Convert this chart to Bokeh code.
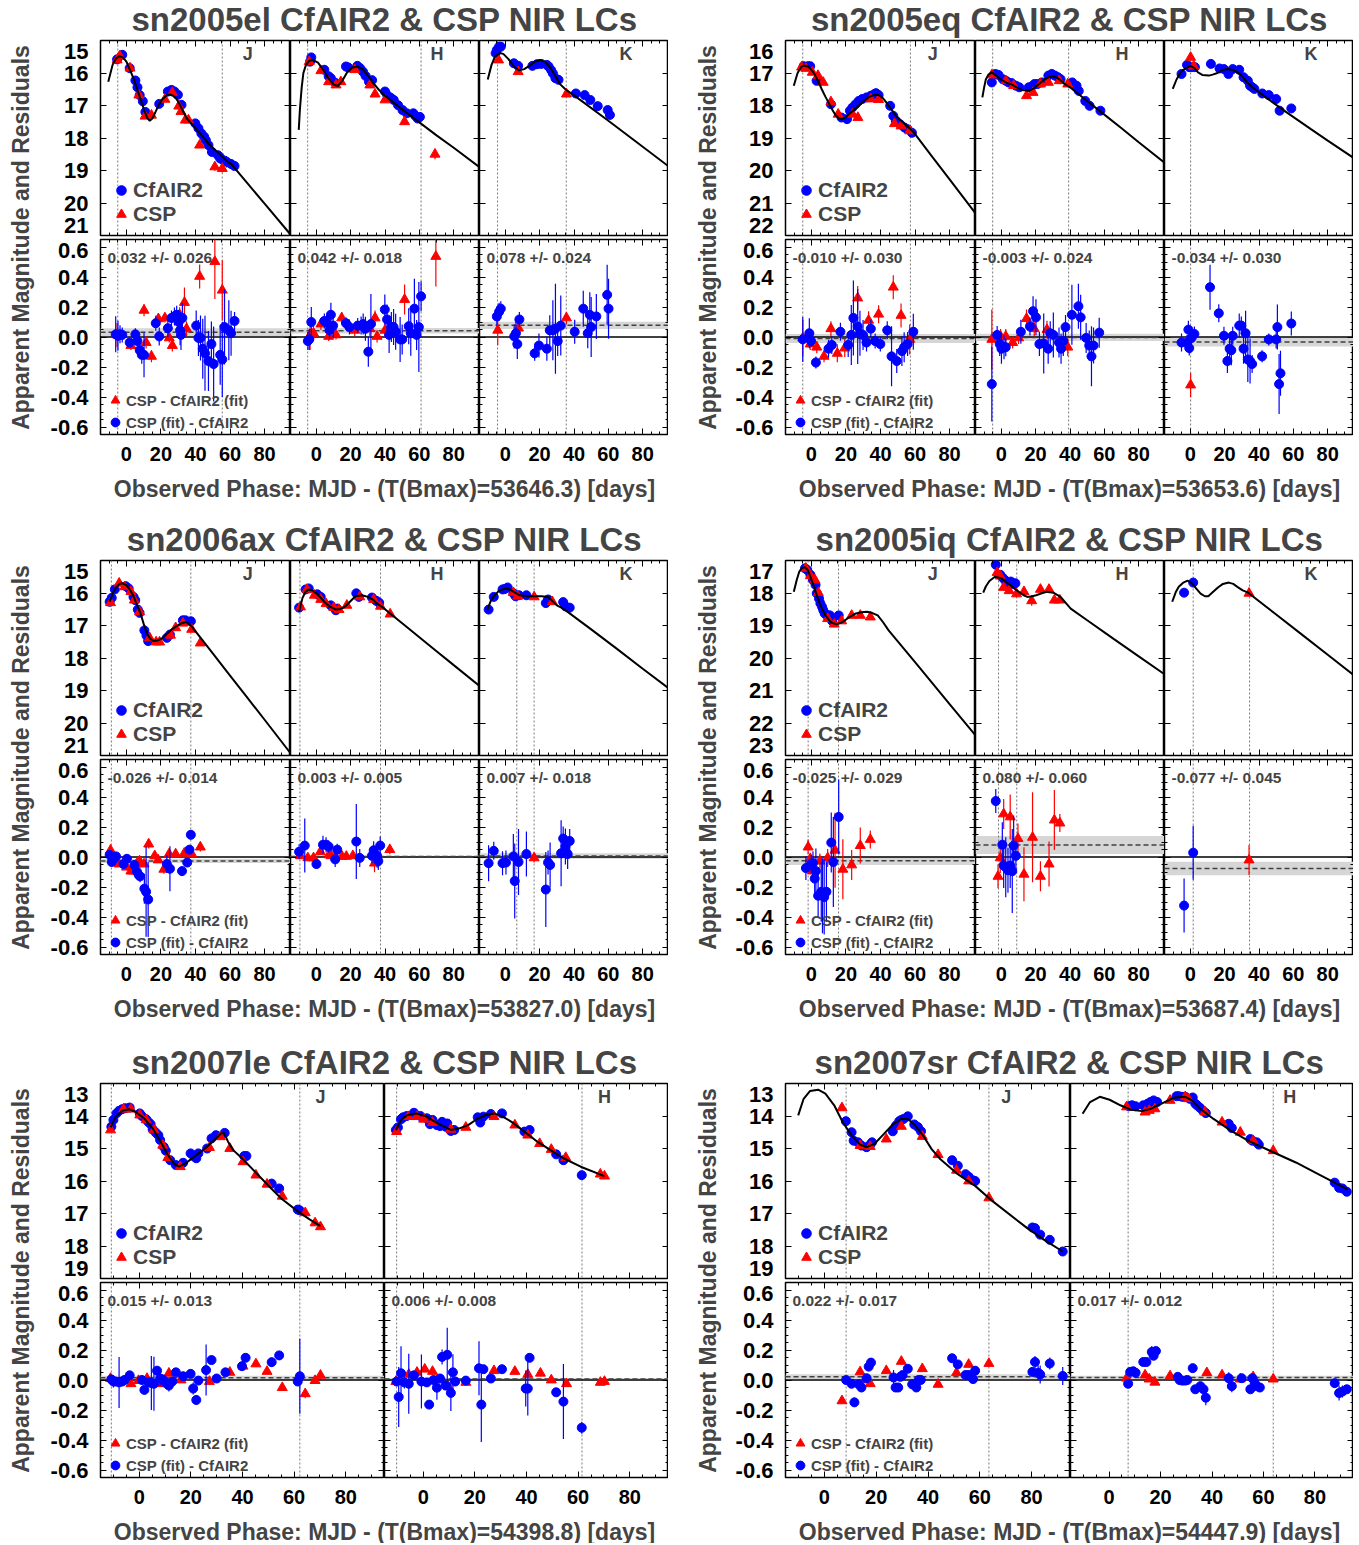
import numpy as np
from bokeh.plotting import figure
from bokeh.layouts import row, column
from bokeh.models import (Range1d, LinearAxis, FixedTicker, Label, Span, BoxAnnotation,
                          ColumnDataSource, Legend, LegendItem, CustomJSTickFormatter,
                          NumeralTickFormatter, Spacer)
from bokeh.embed import file_html
from bokeh.resources import INLINE

# ============================ DATA ============================
# ---- sn2005el ----
el_mag = (15, 21)
el_vlines = [[-5, 55.5], [-5, 61], [-4.5, 35.5]]
el_offsets = [(0.032, 0.026), (0.042, 0.018), (0.078, 0.024)]
el_J_curve = [(-10.5,16.27),(-8,15.75),(-6,15.55),(-4,15.48),(-2,15.52),(0,15.65),(2,15.9),(4,16.15),(6,16.45),(8,16.78),(10,17.1),(12,17.38),(13.5,17.47),(15,17.4),(17,17.18),(19,16.95),(21,16.8),(23,16.7),(25,16.66),(27,16.7),(29,16.8),(31,16.98),(33,17.2),(35,17.4),(38,17.58),(43,17.88),(48,18.2),(53,18.45),(58,18.7),(61,18.82),(70,19.39),(80,20.02),(95,20.97)]
el_J_cfa = [(-5.4,15.58,.03),(-2.4,15.44,.03),(1.9,15.85,.03),(5.2,16.23,.03),(6.4,16.44,.03),(7.7,16.68,.04),(9.5,16.87,.04),(11.0,17.2,.04),(19.0,16.95,.04),(24.0,16.57,.03),(26.1,16.52,.03),(27.8,16.57,.03),(29.8,16.67,.04),(31.9,16.98,.04),(39.9,17.55,.05),(41.7,17.7,.06),(43.4,17.86,.06),(45.0,17.96,.08),(46.0,18.07,.08),(47.5,18.22,.06),(49.5,18.43,.08),(53.0,18.53,.12),(54.3,18.63,.15),(56.0,18.68,.2),(58.0,18.73,.18),(60.6,18.8,.15),(62.6,18.86,.06)]
el_J_csp = [(-5.4,15.6,.03),(-3.8,15.48,.03),(2.1,15.85,.03),(7.2,16.68,.03),(10.8,17.33,.04),(14.5,17.3,.04),(22.3,16.81,.03),(26.6,16.6,.03),(30.3,17.02,.04),(31.6,17.19,.04),(34.1,17.45,.04),(35.9,17.45,.04),(42.4,18.22,.06),(51.2,18.89,.12),(55.5,18.94,.12)]
el_H_curve = [(-10.2,17.75),(-9.5,17.1),(-8.5,16.45),(-7.5,16.0),(-6,15.75),(-4,15.62),(-2,15.6),(1,15.68),(4,15.9),(7,16.15),(10,16.35),(12.5,16.4),(15,16.25),(18,15.98),(21,15.83),(24,15.8),(27,15.88),(30,16.07),(33,16.3),(37,16.55),(40,16.7),(50,17.12),(60,17.52),(70,17.92),(80,18.3),(95,18.9)]
el_H_cfa = [(-3.6,15.65,.03),(-2.9,15.52,.03),(4.7,15.9,.03),(7.2,16.1,.04),(8.5,16.16,.04),(11.0,16.3,.04),(17.3,15.8,.03),(18.6,15.83,.03),(23.9,15.78,.03),(25.5,15.85,.04),(27.2,15.96,.04),(28.7,16.09,.04),(30.7,16.27,.05),(32.5,16.22,.05),(40.0,16.57,.05),(41.3,16.68,.06),(43.3,16.76,.08),(45.1,16.83,.08),(47.6,16.99,.08),(50.2,17.14,.1),(52.7,17.24,.1),(56.5,17.24,.08),(57.7,17.32,.1),(59.0,17.4,.12),(60.3,17.35,.12)]
el_H_csp = [(-4.1,15.65,.03),(2.7,15.93,.03),(7.2,16.27,.03),(11.5,16.37,.04),(14.3,16.27,.04),(22.4,15.9,.03),(31.2,16.37,.04),(34.2,16.65,.05),(40.0,16.83,.05),(51.4,17.5,.1),(69.1,18.5,.15)]
el_K_curve = [(-10.2,16.2),(-8,15.75),(-6,15.5),(-3,15.38),(-1,15.42),(2,15.58),(5,15.8),(8,15.92),(11,15.88),(14,15.78),(17,15.66),(20,15.6),(23,15.65),(26,15.82),(29,16.08),(32,16.35),(35,16.5),(45,16.88),(60,17.47),(75,18.07),(95,18.87)]
el_K_cfa = [(-5.6,15.39,.03),(-4.9,15.29,.03),(-3.6,15.19,.03),(-2.6,15.19,.03),(5.0,15.7,.05),(7.5,15.78,.05),(15.8,15.78,.04),(18.4,15.73,.04),(20.9,15.72,.05),(24.2,15.75,.06),(25.2,15.8,.08),(26.7,15.91,.08),(27.7,16.01,.1),(29.2,16.16,.12),(31.0,16.21,.1),(41.1,16.63,.05),(46.2,16.68,.05),(49.5,16.83,.08),(53.8,17.02,.08),(59.6,17.14,.1),(60.9,17.29,.1)]
el_K_csp = [(-3.9,15.6,.03),(7.5,15.96,.04),(35.6,16.65,.04)]
el_J_rcfa = [(-6.2,0.018,.12),(-4.9,0.008,.1),(-3.7,0.018,.06),(-2.4,0.014,.05),(1.9,-0.037,.03),(5.2,0.018,.04),(6.4,-0.027,.05),(7.7,-0.088,.05),(8.9,-0.119,.06),(10.2,-0.119,.15),(17.0,0.092,.05),(19.0,0.004,.06),(24.0,0.059,.06),(26.1,0.127,.05),(27.8,0.137,.06),(29.1,0.148,.06),(30.3,0.1,.08),(31.1,0.045,.1),(31.6,0.014,.1),(32.4,0.127,.1),(40.4,0.076,.1),(41.7,-0.006,.12),(42.9,-0.006,.15),(44.2,-0.078,.2),(45.5,-0.109,.25),(47.5,-0.16,.2),(49.2,-0.047,.15),(50.5,-0.18,.25),(54.3,-0.119,.2),(55.5,-0.15,.25),(56.8,0.066,.25),(59.3,0.045,.2),(60.6,0.025,.15),(62.6,0.107,.06)]
el_J_rcsp = [(-5.4,0.014,.08),(2.6,-0.057,.03),(10.2,0.178,.04),(11.4,-0.037,.04),(14.5,-0.129,.04),(18.5,0.121,.03),(22.3,0.127,.03),(24.8,-0.006,.03),(26.6,-0.057,.04),(30.8,0.148,.05),(33.6,0.23,.1),(34.8,0.055,.05),(42.4,0.404,.08),(51.2,0.503,.25),(55.5,0.312,.2)]
el_H_rcfa = [(-4.9,-0.027,.06),(-4.1,-0.016,.07),(-2.9,0.1,.1),(4.7,0.107,.05),(6.0,0.096,.05),(7.7,0.045,.06),(8.5,0.148,.08),(9.8,0.076,.08),(17.3,0.092,.04),(19.3,0.066,.05),(24.1,0.076,.05),(26.1,0.076,.06),(27.3,0.086,.07),(28.6,0.055,.08),(30.3,-0.098,.1),(31.8,0.086,.2),(39.9,0.183,.1),(41.2,0.117,.1),(42.4,0.014,.12),(43.7,0.066,.1),(45.0,0.066,.12),(46.2,0.035,.12),(48.8,-0.016,.15),(50.0,-0.016,.1),(53.8,0.072,.12),(55.0,0.025,.15),(57.1,0.189,.2),(58.4,0.014,.1),(59.7,0.066,.3),(61.0,0.271,.1)]
el_H_rcsp = [(-3.6,0.014,.1),(-1.6,0.025,.05),(2.7,0.086,.04),(7.2,0.004,.03),(11.5,0.014,.03),(14.8,0.127,.04),(22.4,0.045,.04),(31.2,0.055,.06),(34.2,0.127,.05),(35.4,0.004,.04),(40.0,0.045,.05),(51.4,0.25,.1),(69.6,0.537,.2)]
el_K_rcfa = [(-4.9,0.137,.06),(-3.6,0.168,.06),(-2.6,0.189,.05),(5.2,0.004,.08),(6.2,0.025,.08),(7.0,-0.047,.1),(8.2,0.117,.05),(17.1,-0.109,.05),(19.6,-0.057,.08),(24.2,-0.078,.08),(25.9,0.045,.1),(27.7,0.045,.2),(29.2,0.055,.3),(30.5,-0.027,.1),(32.3,0.076,.2),(40.4,0.035,.08),(45.4,0.189,.12),(48.0,0.025,.1),(49.2,0.148,.15),(50.0,0.066,.2),(53.0,0.137,.15),(59.3,0.281,.2),(60.1,0.189,.2)]
el_K_rcsp = [(-4.4,0.045,.1),(7.7,0.059,.05),(35.6,0.127,.04)]

# ---- sn2005eq ----
eq_mag = (16, 22)
eq_vlines = [[-5, 57.3], [-5, 39.2], [0.2]]
eq_offsets = [(-0.010, 0.030), (-0.003, 0.024), (-0.034, 0.030)]
eq_J_curve = [(-10.2,17.39),(-8,17.0),(-6,16.82),(-4.5,16.77),(-2,16.8),(0,16.9),(2,17.05),(4,17.27),(6,17.5),(8,17.72),(10,17.92),(12,18.12),(14,18.3),(16,18.4),(18,18.42),(20,18.36),(22,18.25),(24,18.17),(27,18.02),(30,17.88),(33,17.75),(36,17.68),(39,17.68),(41,17.75),(43,17.88),(46,18.1),(50,18.38),(54,18.56),(58,18.76),(60,18.88),(70,19.58),(80,20.27),(95,21.32)]
eq_J_cfa = [(-4.5,16.79,.03),(-2,16.79,.03),(-0.7,16.79,.03),(3,17.24,.04),(11.3,17.96,.04),(17.4,18.37,.05),(20.6,18.42,.06),(22.3,18.16,.1),(23.8,18.06,.12),(25.6,17.96,.1),(27.4,17.86,.1),(29.4,17.8,.08),(31.9,17.75,.06),(34.4,17.7,.05),(36.4,17.65,.04),(37.4,17.62,.04),(38.9,17.68,.04),(45.6,18.01,.04),(47.4,18.32,.05),(48.9,18.47,.05),(51.4,18.58,.06),(53.9,18.68,.06),(55.7,18.73,.08),(58.2,18.84,.08)]
eq_J_csp = [(-5.7,16.82,.03),(-3.2,16.86,.03),(0.5,16.98,.03),(3.8,17.08,.03),(6.8,17.29,.03),(11.3,17.89,.04),(15.5,18.27,.04),(23.8,18.27,.05),(26.9,18.37,.05),(34.4,17.8,.05),(38.9,17.82,.05),(48.1,18.56,.06),(51.9,18.63,.06),(56.9,18.78,.07)]
eq_H_curve = [(-11,17.75),(-10,17.45),(-9,17.2),(-7.5,17.05),(-5.5,16.98),(-3,17.08),(-0.5,17.19),(3,17.3),(6,17.35),(9,17.44),(12,17.52),(16,17.55),(19,17.47),(22,17.34),(25,17.2),(28,17.12),(31,17.11),(34,17.2),(37,17.34),(40,17.44),(50,17.86),(60,18.28),(70,18.7),(80,19.13),(95,19.76)]
eq_H_cfa = [(-5.5,17.29,.06),(-3.4,17.03,.04),(-1.6,17.06,.04),(0.9,17.19,.05),(2.7,17.24,.05),(4.2,17.29,.05),(6.0,17.31,.05),(8.5,17.39,.05),(10.5,17.44,.06),(16.0,17.44,.06),(17.8,17.41,.06),(19.3,17.34,.06),(21.0,17.34,.06),(23.6,17.29,.06),(27.4,17.08,.08),(29.4,17.03,.08),(31.2,17.08,.06),(33.0,17.13,.06),(34.5,17.19,.06),(41.3,17.29,.06),(43.8,17.39,.08),(45.1,17.55,.08),(48.9,17.86,.1),(51.4,18.01,.1),(57.7,18.16,.1)]
eq_H_csp = [(-5.5,17.06,.03),(2.7,17.24,.03),(7.2,17.39,.03),(14.7,17.7,.04),(18.5,17.6,.04),(22.8,17.34,.04),(27.4,17.29,.04),(33.7,17.24,.04),(38.7,17.34,.05)]
eq_K_curve = [(-10.2,17.49),(-8,17.2),(-5.6,16.98),(-3,16.86),(0.2,16.79),(2.5,16.85),(4.5,16.98),(7,17.06),(10.8,17.08),(13,17.05),(15.8,17.0),(18.5,16.92),(20.9,16.88),(24.7,16.9),(27,16.96),(29.8,17.08),(33,17.28),(36.1,17.44),(45,17.79),(56.3,18.22),(70,18.72),(80,19.08),(95,19.61)]
eq_K_cfa = [(-5.1,17.03,.05),(-1.9,16.75,.05),(-0.6,16.82,.05),(0.7,16.82,.05),(2.7,16.82,.05),(12,16.72,.06),(17,16.86,.06),(19.6,16.88,.06),(22.2,17.03,.08),(24.7,16.88,.06),(28.5,16.9,.06),(31,17.13,.08),(33.5,17.24,.1),(34.8,17.39,.1),(36.1,17.44,.1),(37.3,17.49,.1),(41.9,17.63,.06),(45.7,17.68,.06),(50,17.8,.08),(52,18.16,.12),(58.8,18.09,.08)]
eq_K_csp = [(0.2,16.52,.05),(2.0,16.79,.04)]
eq_J_rcfa = [(-5,-0.016,.15),(-1.2,0.025,.1),(-0.2,-0.027,.04),(2.6,-0.17,.04),(9.9,-0.078,.06),(11.8,-0.053,.06),(16.8,0.035,.06),(21.3,-0.053,.08),(23.1,0.014,.2),(24.3,0.127,.25),(26.8,0.07,.25),(28.1,0.025,.15),(29.9,0.014,.1),(31.9,-0.037,.06),(34.4,0.055,.06),(36.9,-0.027,.05),(39.9,-0.047,.05),(43.9,0.045,.06),(46.4,-0.129,.2),(49.4,-0.16,.08),(52.4,-0.094,.1),(53.7,-0.068,.1),(55.7,-0.047,.08),(59.0,0.035,.12)]
eq_J_rcsp = [(-5,-0.006,.12),(-0.7,-0.047,.04),(3.1,-0.068,.04),(7.3,-0.129,.04),(11.3,0.055,.05),(15,-0.109,.06),(19.3,-0.074,.06),(26.8,0.26,.08),(33.1,0.111,.06),(38.9,0.152,.06),(47.4,0.332,.08),(51.9,0.144,.08),(56.9,-0.016,.1)]
eq_H_rcfa = [(-5.5,-0.314,.25),(-2.4,0.014,.06),(-0.9,-0.047,.08),(0.1,-0.078,.1),(1.6,-0.068,.08),(2.6,-0.068,.06),(11.4,0.035,.08),(16.7,0.07,.06),(18.5,0.172,.1),(20.2,0.131,.12),(22.2,-0.047,.08),(24.7,-0.043,.2),(27.3,-0.078,.1),(28.5,0.025,.08),(30.3,0.014,.15),(33.6,-0.037,.1),(34.8,-0.078,.1),(36.1,-0.027,.1),(37.4,0.066,.08),(41.1,0.148,.2),(44.9,0.205,.15),(46.2,0.131,.15),(49.4,-0.006,.1),(51.2,-0.057,.1),(52.5,-0.129,.2),(53.7,-0.057,.12),(57,0.029,.1)]
eq_H_rcsp = [(-5.5,-0.016,.2),(-0.4,0.004,.05),(2.6,0.004,.05),(6.6,-0.037,.04),(10.1,-0.006,.04),(14.7,0.123,.06),(19.2,0.055,.05),(26.6,0.049,.06),(38.7,-0.068,.06)]
eq_K_rcfa = [(-5.1,-0.037,.06),(-1.9,-0.037,.05),(-1.1,0.049,.06),(-0.6,-0.074,.05),(0.7,-0.006,.05),(2.4,0.02,.05),(11.5,0.332,.15),(16.6,0.158,.06),(19.6,0.008,.06),(21.6,-0.16,.08),(22.9,-0.078,.08),(23.9,-0.088,.1),(24.7,0.008,.06),(28.5,0.076,.08),(29.7,0.076,.06),(31,-0.078,.1),(32.2,0.025,.15),(33.5,-0.15,.15),(34.8,-0.16,.15),(36,-0.18,.06),(41.8,-0.129,.04),(45.7,-0.016,.04),(50,-0.016,.06),(50.7,0.066,.15),(51.7,-0.314,.2),(52.5,-0.242,.15),(58.8,0.09,.08)]
eq_K_rcsp = [(0.2,-0.32,.08)]

# ---- sn2006ax ----
ax_mag = (15, 21)
ax_vlines = [[-8.7, 37.3], [-9.5, 37.4], [6.7, 16.8]]
ax_offsets = [(-0.026, 0.014), (0.003, 0.005), (0.007, 0.018)]
ax_J_curve = [(-9.7,16.27),(-8,16.02),(-6,15.83),(-4,15.72),(-2.4,15.7),(0,15.76),(2,15.9),(4,16.08),(6,16.35),(8,16.6),(10,16.95),(12,17.25),(14,17.42),(16,17.48),(18,17.46),(20,17.42),(23,17.28),(26,17.13),(29,17.02),(32,16.93),(34.5,16.89),(37.3,17.0),(40,17.18),(43,17.38),(50,17.86),(60,18.54),(70,19.22),(80,19.9),(95,20.93)]
ax_J_cfa = [(-9.7,16.27,.04),(-8.5,16.15,.04),(-6.7,15.89,.03),(-0.4,15.79,.03),(1.3,15.86,.03),(4.1,16.12,.03),(5.1,16.22,.03),(6.6,16.51,.04),(7.6,16.61,.04),(10.4,17.15,.05),(11.6,17.31,.06),(12.6,17.48,.15),(23.4,17.38,.04),(25.2,17.28,.04),(32.7,16.84,.04),(34.2,16.84,.04),(37.3,16.87,.03)]
ax_J_csp = [(-9.2,16.3,.03),(-4.2,15.7,.02),(-0.9,15.81,.02),(2.6,15.96,.02),(4.6,16.22,.02),(7.6,16.58,.03),(13.4,17.38,.03),(17.2,17.51,.03),(19.2,17.51,.03),(25.5,17.3,.03),(28.5,17.07,.03),(32.7,16.93,.03),(37.8,17.12,.03),(42.8,17.54,.03)]
ax_H_curve = [(-10,16.58),(-8,16.15),(-6.2,15.96),(-4.4,15.89),(-2,15.93),(0.1,16.01),(3,16.17),(5.2,16.3),(8,16.42),(11.4,16.51),(14,16.49),(16.5,16.43),(19,16.3),(22.8,16.1),(26.6,16.07),(30,16.12),(32.9,16.2),(35.5,16.33),(37.9,16.41),(43,16.63),(50,16.93),(60,17.36),(70,17.79),(80,18.22),(95,18.86)]
ax_H_cfa = [(-10,16.45,.05),(-6.2,15.89,.1),(-4.4,15.86,.04),(0.6,16.04,.03),(2.6,16.12,.03),(8.4,16.38,.03),(11.4,16.53,.04),(12.2,16.48,.04),(23.3,16.01,.08),(24.8,16.12,.04),(32.4,16.14,.04),(34.9,16.24,.05),(36.6,16.3,.05)]
ax_H_csp = [(-9.2,16.43,.03),(-5.4,15.89,.02),(-1.1,16.07,.02),(2.6,16.2,.02),(5.7,16.33,.02),(10.2,16.45,.02),(13.2,16.51,.02),(17.8,16.38,.02),(25.3,16.12,.02),(33.4,16.2,.02),(37.4,16.41,.02),(43,16.65,.03)]
ax_K_curve = [(-10.5,16.53),(-8.5,16.25),(-6.7,16.1),(-4,15.95),(-1.6,15.89),(0.9,15.86),(3,15.9),(4.7,15.96),(8.5,16.07),(13.5,16.1),(21.1,16.1),(24.9,16.12),(27.5,16.25),(30,16.38),(33,16.46),(36.3,16.58),(50,17.12),(65,17.72),(80,18.33),(95,18.93)]
ax_K_cfa = [(-9.7,16.51,.08),(-6.7,16.12,.05),(-1.6,15.89,.05),(-0.4,15.88,.05),(1.4,15.83,.05),(4.7,16.01,.1),(6,16.1,.1),(8,16.07,.08),(12.3,16.07,.05),(23.6,16.31,.08),(24.9,16.2,.12),(33.7,16.28,.1),(35,16.41,.1),(37.5,16.45,.08)]
ax_K_csp = [(4.7,15.99,.04),(7.2,16.1,.04),(16.8,16.12,.03),(27.4,16.27,.04)]
ax_J_rcfa = [(-9.7,0.014,.03),(-8.5,-0.033,.03),(-7.5,-0.016,.03),(-6,0.004,.03),(-1.7,-0.047,.03),(0.3,-0.012,.03),(4.6,-0.053,.03),(6.1,-0.098,.03),(7.1,-0.119,.03),(7.9,-0.129,.04),(10.4,-0.211,.1),(11.4,-0.232,.3),(12.6,-0.283,.25),(23.4,-0.047,.06),(25.2,-0.078,.15),(32.2,-0.094,.03),(35.2,-0.037,.03),(36.5,0.049,.03),(37.3,0.148,.03)]
ax_J_rcsp = [(-9.2,0.045,.04),(-7.5,-0.012,.03),(-4.2,-0.047,.02),(0.1,-0.068,.02),(2.6,-0.094,.02),(4.1,-0.094,.02),(5.9,-0.047,.02),(7.6,-0.027,.02),(10.2,-0.047,.02),(12.9,0.086,.03),(16.4,0.008,.02),(18.4,-0.02,.02),(21.7,-0.082,.03),(24.7,0.02,.02),(28.5,0.02,.02),(33.5,0.025,.02),(37.8,0.02,.02),(42.8,0.066,.03)]
ax_H_rcfa = [(-10,0.035,.05),(-6.7,0.076,.18),(0.1,-0.047,.03),(3.9,0.082,.06),(5.7,0.082,.05),(7.2,0.07,.04),(11,-0.016,.05),(12.2,0.049,.04),(23.3,0.103,.25),(25.3,-0.006,.06),(32.4,0.008,.05),(33.4,0.045,.06),(35.4,0.008,.08),(36.1,-0.027,.06),(37.2,0.076,.06)]
ax_H_rcsp = [(-9.2,0.008,.02),(-4.9,-0.006,.02),(-1.6,-0.006,.02),(2.4,0.035,.02),(7.4,0.014,.02),(8.7,0.008,.02),(11.2,0.004,.02),(15,0.004,.02),(17.5,0.004,.02),(21.3,0.008,.02),(33.9,-0.041,.06),(35.2,0.008,.02),(42.8,0.049,.03)]
ax_K_rcfa = [(-9.7,-0.041,.12),(-6.7,0.041,.06),(-1.6,-0.041,.08),(0.4,-0.037,.08),(4.7,0.004,.15),(5.5,-0.16,.25),(7.7,-0.033,.22),(12.3,0.02,.15),(23.6,-0.217,.25),(24.9,-0.037,.08),(26.1,-0.053,.15),(32.5,0.025,.22),(33.7,0.123,.08),(35,0.07,.12),(36.3,0.02,.1),(37.5,0.107,.08)]
ax_K_rcsp = [(16.8,-0.006,.03)]

# ---- sn2005iq ----
iq_mag = (17, 23)
iq_vlines = [[-1.9, 15.7], [-1.6, 9], [1.7, 34.5]]
iq_offsets = [(-0.025, 0.029), (0.080, 0.060), (-0.077, 0.045)]
iq_J_curve = [(-10.2,17.96),(-8.5,17.6),(-7,17.34),(-5.5,17.23),(-3.7,17.21),(-2,17.3),(-0.6,17.5),(1.5,17.8),(3.1,18.07),(5,18.35),(7,18.58),(8.2,18.69),(10,18.82),(12,18.92),(14.5,18.96),(17,18.92),(19.5,18.84),(22,18.74),(25.8,18.63),(29,18.59),(32.1,18.58),(35,18.61),(38.4,18.69),(41.5,18.9),(44.7,19.15),(50,19.49),(60,20.13),(70,20.77),(80,21.42),(95,22.38)]
iq_J_cfa = [(-3.7,17.24,.03),(-2.4,17.29,.03),(-0.6,17.44,.04),(0.9,17.6,.05),(2.4,17.75,.06),(3.1,18.01,.08),(4.4,18.17,.08),(5.2,18.32,.06),(6.2,18.43,.08),(6.9,18.53,.1),(7.7,18.63,.1),(9,18.69,.12),(10.7,18.69,.15),(12,18.86,.15),(15.8,18.69,.08)]
iq_J_csp = [(-3.2,17.24,.03),(-0.6,17.47,.03),(2,17.6,.04),(4,17.99,.04),(9.4,18.79,.06),(13.2,18.96,.08),(17.5,18.86,.08),(23.3,18.69,.06),(28.3,18.69,.06),(34.1,18.74,.05)]
iq_H_curve = [(-10.5,17.99),(-9,17.8),(-6.9,17.63),(-3.7,17.5),(0.1,17.55),(2.5,17.65),(5.2,17.75),(8,17.88),(10.2,17.96),(13,18.07),(15.2,18.12),(18,18.1),(20.3,18.07),(24,18.0),(26.6,17.96),(30.3,17.99),(33,18.07),(35.4,18.17),(40.4,18.48),(50,18.84),(65.6,19.42),(80,19.95),(95,20.5)]
iq_H_cfa = [(-3.2,17.13,.04),(-0.6,17.44,.06),(0.6,17.52,.1),(2.1,17.6,.1),(3.1,17.68,.12),(4.6,17.75,.15),(5.6,17.65,.15),(7.2,17.72,.12),(8.2,17.7,.1)]
iq_H_csp = [(-2.4,17.37,.08),(-0.6,17.48,.08),(1.4,17.83,.1),(4.6,17.93,.1),(8.9,18.03,.1),(13.2,17.96,.1),(17.7,18.24,.15),(22.8,17.89,.1),(27.8,17.89,.12),(30.9,18.22,.1),(34.1,18.22,.06)]
iq_K_curve = [(-10.5,18.27),(-8.5,17.98),(-6.7,17.81),(-4,17.68),(-1.6,17.62),(1,17.7),(3.4,17.86),(6,18.02),(8.5,18.1),(10.5,18.1),(13,17.98),(16.1,17.83),(19,17.72),(22.4,17.68),(25,17.72),(27.4,17.81),(30.5,17.92),(33.7,17.99),(50,18.66),(65,19.28),(80,19.9),(95,20.52)]
iq_K_cfa = [(-3.6,17.99,.06),(1.7,17.68,.1)]
iq_K_csp = [(34.2,18.01,.05)]
iq_J_rcfa = [(-3.2,-0.074,.08),(-0.1,-0.047,.06),(0.9,-0.041,.08),(1.9,-0.144,.1),(2.6,-0.094,.15),(3.9,-0.258,.15),(5.7,-0.232,.2),(6.4,-0.258,.25),(7.4,-0.267,.25),(8.7,-0.232,.2),(11.5,0.096,.2),(12.7,-0.033,.3),(15.8,0.267,.25)]
iq_J_rcsp = [(-1.9,0.066,.05),(-0.6,-0.012,.04),(0.6,-0.094,.04),(4.9,-0.027,.05),(9.4,-0.006,.06),(13.7,0.045,.25),(18.2,-0.082,.2),(23.3,-0.053,.1),(28.3,0.076,.12),(34.1,0.117,.06)]
iq_H_rcfa = [(-3.2,0.373,.08),(0.6,0.082,.15),(1.4,-0.057,.15),(2.6,-0.068,.2),(3.9,-0.088,.15),(5.2,-0.057,.15),(6.4,-0.094,.28),(7.2,0.076,.2),(8.5,0.008,.1)]
iq_H_rcsp = [(-1.9,-0.129,.08),(-0.6,-0.006,.1),(1.4,0.287,.1),(5.2,0.267,.15),(9.7,0.123,.1),(13.2,-0.115,.18),(18.2,0.131,.3),(22.8,-0.129,.1),(27.8,-0.047,.15),(30.9,0.246,.2),(34.1,0.226,.06)]
iq_K_rcfa = [(-3.6,-0.324,.18),(1.7,0.029,.18)]
iq_K_rcsp = [(34.2,-0.02,.1)]

# ---- sn2007le ----
le_mag = (13, 19)
le_vlines = [[-10.8, 62.2], [-10.3, 61.5]]
le_offsets = [(0.015, 0.013), (0.006, 0.008)]
le_J_curve = [(-11.1,14.35),(-9.1,14.02),(-6.6,13.84),(-4,13.79),(-1.5,13.87),(1.9,14.07),(5.2,14.38),(8.6,14.84),(11.1,15.2),(13.7,15.48),(15.4,15.56),(17.9,15.46),(21.3,15.25),(25.5,15.0),(29.7,14.69),(31.7,14.54),(32.8,14.52),(34.4,14.79),(36.4,15.05),(39.8,15.3),(44.9,15.72),(49.9,16.13),(55,16.54),(61.7,16.95),(66,17.18),(70.2,17.39)]
le_J_cfa = [(-10.8,14.33,.03),(-10,14.12,.03),(-8.8,13.92,.03),(-7.8,13.84,.03),(-6.6,13.79,.03),(-5.4,13.76,.03),(-3.7,13.74,.03),(0.2,13.92,.03),(1.0,14.0,.03),(2.7,14.1,.03),(3.5,14.18,.03),(4.4,14.25,.03),(5.2,14.41,.03),(6.4,14.51,.03),(7.4,14.59,.03),(8.1,14.74,.03),(9.5,14.95,.03),(10.3,15.07,.03),(12.0,15.36,.03),(14.2,15.51,.03),(17.0,15.44,.03),(19.9,15.15,.03),(21.3,15.25,.03),(22.1,15.3,.03),(22.9,15.15,.03),(26.3,15.0,.03),(28.0,14.69,.03),(29.7,14.59,.03),(33.1,14.52,.03),(40.7,15.23,.03),(41.5,15.23,.03),(51.3,16.08,.03),(54.2,16.23,.03),(61.4,16.88,.05),(62.1,16.9,.1)]
le_J_csp = [(-11.1,14.43,.02),(-6.1,13.79,.02),(-3.2,13.79,.02),(0.2,13.97,.02),(2.7,14.12,.02),(5.7,14.43,.02),(9.1,14.9,.02),(11.1,15.28,.02),(15.9,15.56,.02),(27.2,14.97,.02),(31.4,14.64,.02),(35.1,15.0,.02),(40.2,15.41,.02),(45.2,15.82,.02),(49.5,16.1,.02),(55.4,16.47,.02),(64.3,16.98,.02),(68.1,17.29,.02),(70.2,17.41,.02)]
le_H_curve = [(-10.6,14.43),(-8.6,14.12),(-6.1,13.97),(-2.8,13.92),(1.4,14.02),(5.6,14.23),(10.7,14.43),(14,14.38),(17.4,14.28),(20.7,14.1),(24.1,13.97),(27.4,13.92),(30.8,14.02),(34.2,14.18),(39.2,14.48),(44.2,14.79),(49.3,15.05),(54.3,15.3),(61,15.56),(70.2,15.85)]
le_H_cfa = [(-10.6,14.43,.03),(-9.8,14.35,.03),(-8.6,14.1,.03),(-7.8,14.04,.04),(-6.4,14.0,.03),(-3.6,13.9,.03),(-1.1,14.0,.03),(1.4,14.07,.03),(2.6,14.25,.03),(3.6,14.12,.03),(5.3,14.28,.04),(6.5,14.31,.03),(7.3,14.18,.04),(8.7,14.33,.04),(9.3,14.23,.04),(10.7,14.46,.05),(12,14.43,.04),(21.1,14.04,.04),(22.1,14.2,.06),(23.3,14.02,.04),(26.2,13.94,.03),(30.5,13.92,.03),(39.2,14.48,.04),(41.2,14.43,.04),(51.5,15.18,.04),(54.3,15.36,.08),(61.4,15.82,.04)]
le_H_csp = [(-10.3,14.48,.02),(-5.8,14.02,.02),(-2.5,14.02,.02),(0.2,14.1,.02),(3.6,14.2,.02),(10.7,14.41,.02),(16.5,14.35,.02),(27.4,14.02,.02),(35.5,14.28,.02),(40.5,14.59,.02),(45.1,14.85,.02),(49.6,15.03,.02),(55.2,15.28,.02),(68.6,15.79,.02),(70.2,15.85,.02)]
le_J_rcfa = [(-10.8,0.004,.03),(-10,-0.01,.04),(-9.2,-0.01,.03),(-7.8,-0.016,.17),(-6.6,-0.01,.03),(-5.7,0,.03),(-3.7,0.031,.02),(1,0,.03),(2,-0.066,.02),(3.5,-0.016,.03),(4.7,-0.02,.18),(5.7,-0.025,.18),(6.9,0.062,.03),(8.1,0.01,.05),(9.1,0.004,.03),(10.3,-0.02,.04),(11.5,-0.037,.04),(12.8,-0.01,.03),(14.2,0.051,.02),(17,0.025,.03),(19.9,0.041,.02),(20.9,-0.057,.04),(22.1,-0.133,.03),(22.9,-0.004,.02),(25.9,0.066,.17),(28,0.133,.02),(30,0.01,.02),(33.4,0.051,.02),(39.8,0.092,.02),(41.2,0.148,.02),(51.3,0.119,.03),(54.2,0.164,.03),(61.4,-0.01,.02),(62.2,0.025,.25)]
le_J_rcsp = [(-11.1,0.01,.02),(-3.2,-0.025,.02),(-0.3,-0.004,.02),(3,0.01,.02),(8.9,-0.025,.02),(11.5,0.045,.02),(16.2,0,.02),(27.2,-0.01,.02),(35.1,0.051,.02),(40.2,0.092,.02),(45.2,0.107,.02),(49.5,0.057,.02),(55.4,-0.051,.02),(64.3,-0.092,.03),(68.1,-0.004,.02),(70.2,0.031,.02)]
le_H_rcfa = [(-10.3,-0.01,.02),(-9.5,-0.113,.2),(-8.6,0.045,.18),(-7.3,-0.016,.04),(-5.6,-0.025,.2),(-3.6,0.031,.02),(-0.7,-0.01,.18),(1.4,-0.016,.02),(2.3,-0.164,.02),(4,0,.02),(5.3,-0.051,.08),(6.5,0.01,.02),(7.3,0.154,.05),(8.7,-0.037,.03),(9.3,0.168,.18),(10.7,-0.086,.12),(11.5,0.051,.12),(12.4,-0.01,.02),(16.5,-0.004,.02),(21.6,0.078,.18),(22.5,-0.164,.25),(23.3,0.072,.02),(26.2,0.01,.02),(30.5,0.072,.02),(39.7,-0.057,.12),(40.5,-0.057,.18),(41.2,0.148,.02),(51.5,-0.082,.02),(54.3,-0.144,.25),(61.4,-0.318,.04)]
le_H_rcsp = [(-10.6,-0.01,.02),(-5.6,0.037,.02),(-2.4,0.051,.02),(0.6,0.072,.02),(3.6,0.057,.02),(9.8,-0.045,.02),(16.5,-0.016,.02),(27.4,0.062,.02),(35.5,0.057,.02),(40.5,0.037,.02),(45.4,0.045,.02),(49.6,0,.02),(55.5,-0.025,.02),(68.6,-0.016,.02),(70.2,-0.01,.02)]

# ---- sn2007sr ----
sr_mag = (13, 19)
sr_vlines = [[8.4, 63.5], [7.4, 63.8]]
sr_offsets = [(0.022, 0.017), (0.017, 0.012)]
sr_J_curve = [(-10.1,13.98),(-8,13.47),(-5.5,13.23),(-2.4,13.19),(0.4,13.31),(3.8,13.67),(7.1,14.19),(10.5,14.6),(13.8,14.88),(16.3,14.96),(19.3,14.86),(23,14.55),(26.4,14.26),(29.7,14.09),(32.2,14.09),(34.7,14.26),(38.1,14.6),(41.4,15.02),(44.8,15.33),(51.5,15.79),(58.2,16.15),(64.9,16.62),(78.3,17.45),(85,17.82),(92,18.17)]
sr_J_cfa = [(8.3,14.16,.02),(10.5,14.5,.02),(11.3,14.76,.02),(13,14.81,.02),(14.3,14.91,.02),(16.3,14.96,.02),(17.7,14.88,.02),(18.4,14.81,.02),(26.4,14.47,.02),(27.7,14.29,.02),(28.9,14.16,.02),(29.7,14.12,.02),(30.6,14.09,.02),(32.2,14.01,.02),(34.7,14.26,.02),(36.1,14.34,.02),(37.3,14.47,.02),(49.3,15.36,.02),(51.5,15.53,.02),(54.5,15.79,.02),(55.7,15.87,.02),(57.4,15.98,.02),(58.2,16.0,.02),(80.3,17.43,.03),(81.3,17.45,.04),(83.3,17.65,.04),(87,17.81,.03),(92,18.17,.03)]
sr_J_csp = [(6.8,13.75,.02),(13.8,14.91,.02),(17.7,14.94,.02),(23.9,14.71,.02),(29.7,14.32,.02),(37.8,14.63,.02),(43.9,15.19,.02),(51,15.67,.02),(55.7,16.0,.02),(63.5,16.52,.02)]
sr_H_curve = [(-10.3,13.93),(-7.4,13.57),(-3.6,13.41),(0.2,13.5),(4.4,13.67),(8.6,13.81),(12.8,13.85),(16.1,13.78),(20.4,13.62),(25.4,13.43),(29.6,13.41),(32.2,13.52),(35.5,13.78),(40.6,14.09),(47.3,14.45),(54,14.76),(62.5,15.07),(72.6,15.43),(82.6,15.84),(92.7,16.26)]
sr_H_cfa = [(7.7,13.7,.02),(8.9,13.67,.02),(10.3,13.7,.02),(13.3,13.67,.02),(14,13.7,.02),(15,13.62,.02),(16.1,13.57,.02),(17.3,13.52,.02),(18.7,13.57,.02),(26.2,13.39,.02),(27.1,13.39,.02),(28.4,13.41,.02),(29.6,13.41,.02),(31.3,13.47,.02),(32.5,13.43,.02),(33.5,13.62,.02),(34.2,13.67,.02),(35.2,13.74,.02),(36.4,13.83,.02),(37.6,13.91,.02),(46.5,14.24,.02),(47.7,14.37,.02),(54.9,14.71,.02),(55.7,14.76,.02),(57.4,14.81,.02),(58.2,14.88,.02),(87.7,16.05,.02),(89.4,16.21,.02),(90.7,16.23,.02),(92.4,16.33,.02)]
sr_H_csp = [(6.8,13.72,.02),(14,13.88,.02),(15.6,13.83,.02),(17.8,13.78,.02),(23.7,13.52,.02),(29.6,13.41,.02),(30.8,13.47,.02),(37.2,13.88,.02),(43.9,14.19,.02),(51,14.5,.02),(56,14.76,.02),(63.8,15.07,.02)]
sr_J_rcfa = [(8.4,0,.02),(10.5,-0.025,.02),(11.6,-0.149,.03),(13.3,-0.029,.02),(14.3,-0.05,.02),(16.3,0.012,.02),(17.1,0.089,.02),(18,0.116,.02),(26.7,0.017,.05),(27.5,-0.05,.02),(28.5,-0.05,.02),(29.3,0.021,.02),(30.2,0.033,.02),(32.2,0.075,.02),(33.9,-0.029,.02),(35.5,-0.05,.02),(36.4,0,.02),(37.2,0,.02),(49.3,0.145,.02),(51.5,0.104,.02),(54.5,0.033,.03),(55.7,0.033,.03),(57.4,0.006,.02),(58.2,0.062,.03),(80.3,0.054,.03),(81.3,0.12,.04),(82.5,0.048,.05),(83.3,0.037,.06),(87,0.11,.04),(92,0.027,.06)]
sr_J_rcsp = [(6.8,-0.139,.02),(13.8,0.054,.02),(16,0,.02),(17.7,-0.025,.02),(23.9,0.062,.02),(29.7,0.124,.02),(37.8,0.075,.02),(43.9,-0.029,.02),(51,0.048,.02),(55.7,0.104,.02),(63.5,0.11,.02)]
sr_H_rcfa = [(7.4,-0.025,.02),(8.2,0.054,.02),(9.4,0.058,.03),(10.3,0.048,.03),(13.3,0.12,.02),(14.5,0.12,.02),(16.6,0.187,.04),(17.3,0.162,.03),(18.2,0.193,.02),(26.7,0.021,.02),(27.4,0,.02),(28.4,-0.004,.02),(29.6,-0.004,.02),(30.4,0,.02),(32.5,0.079,.02),(33.5,-0.062,.02),(35.5,-0.041,.02),(36.7,-0.062,.02),(37.6,-0.118,.05),(46.5,0.012,.04),(47.7,-0.041,.04),(51.5,0.012,.02),(54.9,-0.062,.02),(55.7,0.012,.02),(56.6,-0.021,.03),(57.4,-0.041,.03),(58.6,-0.05,.03),(87.7,-0.021,.02),(89.4,-0.087,.05),(90.7,-0.077,.04),(92.4,-0.062,.03)]
sr_H_rcsp = [(6.8,0.012,.02),(14,0.033,.02),(15.6,0.006,.02),(17.8,-0.015,.02),(23.7,0.027,.02),(38,0.048,.02),(43.9,0.033,.02),(51,0.006,.02),(56,0.021,.02),(63.8,0.006,.02)]

SN_NAMES = ["sn2005el", "sn2005eq", "sn2006ax", "sn2005iq", "sn2007le", "sn2007sr"]
TMAX = ["53646.3", "53653.6", "53827.0", "53687.4", "54398.8", "54447.9"]
BANDS3 = ["J", "H", "K"]
BANDS2 = ["J", "H"]
X_TICK_LABELS = [0, 20, 40, 60, 80]
RES_TICKS = [-0.6, -0.4, -0.2, 0.0, 0.2, 0.4, 0.6]

# ============================ STYLE / LAYOUT ============================
FONT = "Liberation Sans"
BLUE = "#0000ff"
RED = "#ff0000"
XR = (-15, 95)
X_MINOR = list(range(-15, 96, 5))
R_MINOR = [round(v, 2) for v in np.arange(-0.65, 0.651, 0.05)]
RR = (-0.65, 0.65)
FH = 195      # frame height
BT = 2        # small border above / below the frames (half of gap)
XB = 38       # bottom border for x tick labels
TH = 38       # title strip height
LAB_IN = 10.5  # px inset of end tick labels


def tick_axis(p, side, ticks, minor):
    ax = LinearAxis(ticker=FixedTicker(ticks=ticks, minor_ticks=minor),
                    formatter=CustomJSTickFormatter(code="return ''"),
                    axis_line_color=None, major_tick_in=6, major_tick_out=0,
                    minor_tick_in=3, minor_tick_out=0, major_tick_line_color="black",
                    minor_tick_line_color="black", major_label_text_font_size="0px",
                    major_label_standoff=0)
    p.add_layout(ax, side)


def label_axis(p, side, ticks, formatter, standoff, size):
    ax = LinearAxis(ticker=FixedTicker(ticks=ticks, minor_ticks=[]), formatter=formatter,
                    axis_line_color=None, major_tick_in=0, major_tick_out=0,
                    minor_tick_in=0, minor_tick_out=0, major_tick_line_color=None,
                    minor_tick_line_color=None, major_label_text_font=FONT,
                    major_label_text_font_style="bold", major_label_text_font_size=size,
                    major_label_text_color="black", major_label_standoff=standoff)
    p.add_layout(ax, side)


def base_fig(fw, left, top, bottom, yr):
    p = figure(width=fw + left, height=FH + top + bottom, x_range=Range1d(*XR), y_range=Range1d(*yr),
               x_axis_type=None, y_axis_type=None, toolbar_location=None, output_backend="svg",
               min_border_left=left, min_border_right=0, min_border_top=top, min_border_bottom=bottom,
               outline_line_color="black", outline_line_width=1.5,
               background_fill_color="white", border_fill_color="white")
    return p


def points(p, data, color, marker, size):
    xs = [d[0] for d in data]
    ys = [d[1] for d in data]
    es = [d[2] for d in data]
    src = ColumnDataSource(dict(x=xs, y=ys, lo=[y - e for y, e in zip(ys, es)],
                                hi=[y + e for y, e in zip(ys, es)]))
    p.segment(x0="x", y0="lo", x1="x", y1="hi", source=src, line_color=color, line_width=1.2)
    return p.scatter("x", "y", source=src, marker=marker, size=size,
                     fill_color=color, line_color=color)


def vlines(p, locs):
    for v in locs:
        p.add_layout(Span(location=v, dimension="height", line_color="#7a7a7a",
                          line_dash="2 2", line_width=1, level="underlay"))


def legend(p, items, size, glyph, loc, standoff, spacing):
    lg = Legend(items=[LegendItem(label=t, renderers=[r]) for t, r in items], location=loc,
                orientation="vertical", label_text_font=FONT, label_text_font_style="bold",
                label_text_font_size=size, glyph_width=glyph, glyph_height=glyph,
                label_height=glyph, label_standoff=standoff, spacing=spacing, padding=0, margin=0,
                border_line_color=None, background_fill_alpha=0)
    p.add_layout(lg)


def top_panel(fw, left, mag, curve, cfa, csp, vl, band, first):
    lo, hi = mag
    p = base_fig(fw, left, BT, BT, (hi, lo))
    yt = list(range(lo, hi + 1))
    tick_axis(p, "below", X_TICK_LABELS, X_MINOR)
    tick_axis(p, "above", X_TICK_LABELS, X_MINOR)
    tick_axis(p, "left", yt, [])
    tick_axis(p, "right", yt, [])
    if first:
        d = LAB_IN / FH * (hi - lo)
        lab = [lo + d] + list(range(lo + 1, hi)) + [hi - d]
        label_axis(p, "left", lab, CustomJSTickFormatter(code="return Math.round(tick).toString()"),
                   12, "22px")
    vlines(p, vl)
    rb = points(p, cfa, BLUE, "circle", 9)
    rr = points(p, csp, RED, "triangle", 10)
    p.line([c[0] for c in curve], [c[1] for c in curve], line_color="black", line_width=2)
    p.add_layout(Label(x=XR[0] + 0.775 * (XR[1] - XR[0]), y=lo + 13.0 / FH * (hi - lo), text=band,
                       text_font=FONT, text_font_style="bold", text_font_size="18px",
                       text_align="center", text_baseline="middle"))
    if first:
        legend(p, [("CfAIR2", rb), ("CSP", rr)], "21px", 24, (9, 9), -1, -3)
    return p


def res_panel(fw, left, rcfa, rcsp, vl, off, first):
    p = base_fig(fw, left, BT, XB, RR)
    m, e = off
    p.add_layout(BoxAnnotation(bottom=m - e, top=m + e, fill_color="#d6d6d6", fill_alpha=1.0,
                               line_color=None, level="underlay"))
    vlines(p, vl)
    p.add_layout(Span(location=0, dimension="width", line_color="black", line_width=1.5,
                      level="underlay"))
    p.add_layout(Span(location=m, dimension="width", line_color="#404040", line_width=1.5,
                      line_dash="5 3", level="underlay"))
    tick_axis(p, "below", X_TICK_LABELS, X_MINOR)
    tick_axis(p, "above", X_TICK_LABELS, X_MINOR)
    tick_axis(p, "left", RES_TICKS, R_MINOR)
    tick_axis(p, "right", RES_TICKS, R_MINOR)
    label_axis(p, "below", X_TICK_LABELS, NumeralTickFormatter(format="0"), 12, "20px")
    if first:
        top_lab = RR[1] - LAB_IN / FH * (RR[1] - RR[0])
        lab = RES_TICKS[:-1] + [top_lab]
        label_axis(p, "left", lab, CustomJSTickFormatter(code="return tick.toFixed(1)"), 12, "22px")
    rr = points(p, rcsp, RED, "triangle", 10)
    rb = points(p, rcfa, BLUE, "circle", 9)
    p.add_layout(Label(x=XR[0] + 7.0 / fw * (XR[1] - XR[0]), y=RR[1] - 18.0 / FH * (RR[1] - RR[0]),
                       text="%.3f +/- %.3f" % (m, e), text_font=FONT, text_font_style="bold",
                       text_font_size="15.5px", text_align="left", text_baseline="middle"))
    if first:
        legend(p, [("CSP - CfAIR2 (fit)", rr), ("CSP (fit) - CfAIR2", rb)], "15px", 22, (4, 1), -1, -3)
    return p


def text_fig(w, h, text, x, y, size, angle=0.0):
    p = figure(width=w, height=h, x_range=Range1d(0, w), y_range=Range1d(0, h),
               x_axis_type=None, y_axis_type=None, toolbar_location=None, output_backend="svg",
               min_border=0, outline_line_color=None, border_fill_color="white",
               background_fill_color="white")
    p.add_layout(Label(x=x, y=y, text=text, text_font=FONT, text_font_style="bold",
                       text_font_size=size, text_align="center", text_baseline="middle",
                       angle=angle))
    return p


def block(idx, bands, mag, curves, cfas, csps, rcfas, rcsps, vls, offs, fws, left, ylw, ylx, xh):
    tops, ress = [], []
    for i, b in enumerate(bands):
        lb = left if i == 0 else 0
        tops.append(top_panel(fws[i], lb, mag, curves[i], cfas[i], csps[i], vls[i], b, i == 0))
        ress.append(res_panel(fws[i], lb, rcfas[i], rcsps[i], vls[i], offs[i], i == 0))
    bw = ylw + left + sum(fws)
    cx = ylw + left + sum(fws) / 2.0
    title = text_fig(bw, TH, SN_NAMES[idx] + " CfAIR2 & CSP NIR LCs", cx, TH / 2.0, "33px")
    ph = (FH + 2 * BT) + (FH + BT + XB)
    ylab = text_fig(ylw, ph, "Apparent Magnitude and Residuals", ylx,
                    ph - (FH * 2 + 4 * BT) / 2.0, "23px", angle=np.pi / 2)
    xlab = text_fig(bw, xh, "Observed Phase: MJD - (T(Bmax)=%s) [days]" % TMAX[idx], cx, xh - 16, "23px")
    return column(title, row(ylab, column(row(*tops), row(*ress))), xlab)


A3 = [190, 189, 189]
B3 = [190, 189, 189]
A2 = [284, 284]
B2 = [285, 283]

b_el = block(0, BANDS3, el_mag, [el_J_curve, el_H_curve, el_K_curve], [el_J_cfa, el_H_cfa, el_K_cfa],
             [el_J_csp, el_H_csp, el_K_csp], [el_J_rcfa, el_H_rcfa, el_K_rcfa],
             [el_J_rcsp, el_H_rcsp, el_K_rcsp], el_vlines, el_offsets, A3, 62, 38, 20, 34)
b_eq = block(1, BANDS3, eq_mag, [eq_J_curve, eq_H_curve, eq_K_curve], [eq_J_cfa, eq_H_cfa, eq_K_cfa],
             [eq_J_csp, eq_H_csp, eq_K_csp], [eq_J_rcfa, eq_H_rcfa, eq_K_rcfa],
             [eq_J_rcsp, eq_H_rcsp, eq_K_rcsp], eq_vlines, eq_offsets, B3, 62, 35, 19, 34)
b_ax = block(2, BANDS3, ax_mag, [ax_J_curve, ax_H_curve, ax_K_curve], [ax_J_cfa, ax_H_cfa, ax_K_cfa],
             [ax_J_csp, ax_H_csp, ax_K_csp], [ax_J_rcfa, ax_H_rcfa, ax_K_rcfa],
             [ax_J_rcsp, ax_H_rcsp, ax_K_rcsp], ax_vlines, ax_offsets, A3, 62, 38, 20, 34)
b_iq = block(3, BANDS3, iq_mag, [iq_J_curve, iq_H_curve, iq_K_curve], [iq_J_cfa, iq_H_cfa, iq_K_cfa],
             [iq_J_csp, iq_H_csp, iq_K_csp], [iq_J_rcfa, iq_H_rcfa, iq_K_rcfa],
             [iq_J_rcsp, iq_H_rcsp, iq_K_rcsp], iq_vlines, iq_offsets, B3, 62, 35, 19, 34)
b_le = block(4, BANDS2, le_mag, [le_J_curve, le_H_curve], [le_J_cfa, le_H_cfa], [le_J_csp, le_H_csp],
             [le_J_rcfa, le_H_rcfa], [le_J_rcsp, le_H_rcsp], le_vlines, le_offsets, A2, 62, 38, 20, 28)
b_sr = block(5, BANDS2, sr_mag, [sr_J_curve, sr_H_curve], [sr_J_cfa, sr_H_cfa], [sr_J_csp, sr_H_csp],
             [sr_J_rcfa, sr_H_rcfa], [sr_J_rcsp, sr_H_rcsp], sr_vlines, sr_offsets, B2, 62, 35, 19, 28)

page = column(row(b_el, Spacer(width=20, height=10), b_eq),
              Spacer(width=10, height=14),
              row(b_ax, Spacer(width=20, height=10), b_iq),
              Spacer(width=10, height=17),
              row(b_le, Spacer(width=20, height=10), b_sr))

open("out.html", "w").write(file_html(page, INLINE))
